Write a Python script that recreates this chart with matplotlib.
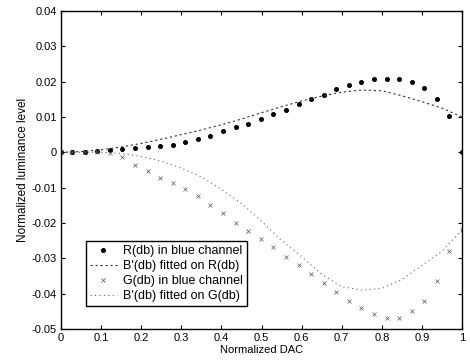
import matplotlib.pyplot as plt
import numpy as np

plt.rcParams['font.family'] = ['Liberation Sans', 'DejaVu Sans']

# DAC sample positions: 0 then (8k-1)/255
k = np.arange(1, 33)
dac = np.concatenate([[0.0], (8 * k - 1) / 255.0])

r_db = [0.0, 0.0001, 0.0001, 0.0004, 0.0006, 0.0010, 0.0012, 0.0015, 0.0018,
        0.0022, 0.0028, 0.0037, 0.0046, 0.0059, 0.0071, 0.0081, 0.0095,
        0.0107, 0.0119, 0.0136, 0.0150, 0.0163, 0.0178, 0.0189, 0.0199,
        0.0206, 0.0207, 0.0207, 0.0199, 0.0182, 0.0152, 0.0102, 0.0]

g_db = [0.0, 0.0, 0.0, 0.0, -0.0002, -0.0012, -0.0035, -0.0053, -0.0072,
        -0.0086, -0.0105, -0.0125, -0.0150, -0.0172, -0.0200, -0.0222,
        -0.0245, -0.0268, -0.0297, -0.0320, -0.0345, -0.0370, -0.0395,
        -0.0420, -0.0440, -0.0458, -0.0470, -0.0468, -0.0450, -0.0420,
        -0.0365, -0.0280, -0.0220]

fit_x = np.arange(0, 1.0001, 0.05)
fit_r = [0.0, 0.0002, 0.0007, 0.0015, 0.0025, 0.0037, 0.0050, 0.0063, 0.0078,
         0.0094, 0.0112, 0.0129, 0.0145, 0.0159, 0.0170, 0.0176, 0.0174,
         0.0160, 0.0143, 0.0125, 0.0100]
fit_g = [0.0, 0.0, 0.0, -0.0003, -0.0012, -0.0025, -0.0045, -0.0070, -0.0105,
         -0.0145, -0.0195, -0.0250, -0.0295, -0.0345, -0.0380, -0.0390,
         -0.0385, -0.0360, -0.0320, -0.0280, -0.0220]

xticks = np.arange(0, 1.01, 0.1)
xticklabels = ['0', '0.1', '0.2', '0.3', '0.4', '0.5', '0.6', '0.7', '0.8', '0.9', '1']
yticks = np.arange(-0.05, 0.0401, 0.01)
yticklabels = ['-0.05', '-0.04', '-0.03', '-0.02', '-0.01', '0', '0.01', '0.02', '0.03', '0.04']

fig = plt.figure(figsize=(4.70, 3.62), dpi=100)
ax = fig.add_axes([0.130, 0.091, 0.853, 0.879])

ax.plot(dac, r_db, linestyle='none', marker='o', markersize=2.6,
        color='black', label='R(db) in blue channel')
ax.plot(fit_x, fit_r, linestyle=(0, (2, 2.5)), linewidth=0.8,
        color='#333333', label="B'(db) fitted on R(db)")
ax.plot(dac, g_db, linestyle='none', marker='x', markersize=2.5,
        markeredgewidth=0.5, color='#555555', label='G(db) in blue channel')
ax.plot(fit_x, fit_g, linestyle=(0, (1, 3)), linewidth=0.8,
        color='#666666', label="B'(db) fitted on G(db)")

ax.set_xlim(0, 1)
ax.set_ylim(-0.05, 0.04)
ax.set_xticks(xticks)
ax.set_xticklabels(xticklabels)
ax.set_yticks(yticks)
ax.set_yticklabels(yticklabels)
ax.tick_params(direction='in', length=3, width=0.8, labelsize=8,
               top=True, right=True, pad=3)
for s in ax.spines.values():
    s.set_linewidth(1.0)

ax.set_xlabel('Normalized DAC', fontsize=8, labelpad=1)
ax.set_ylabel('Normalized luminance level', fontsize=8.5, labelpad=2)

leg = ax.legend(loc='lower left', bbox_to_anchor=(0.062, 0.072),
                borderaxespad=0, fontsize=9, fancybox=False,
                edgecolor='black', framealpha=1, handlelength=2.2,
                handletextpad=0.5, borderpad=0.3, labelspacing=0.25)
leg.get_frame().set_linewidth(1.0)

fig.savefig('out.png', dpi=100)
